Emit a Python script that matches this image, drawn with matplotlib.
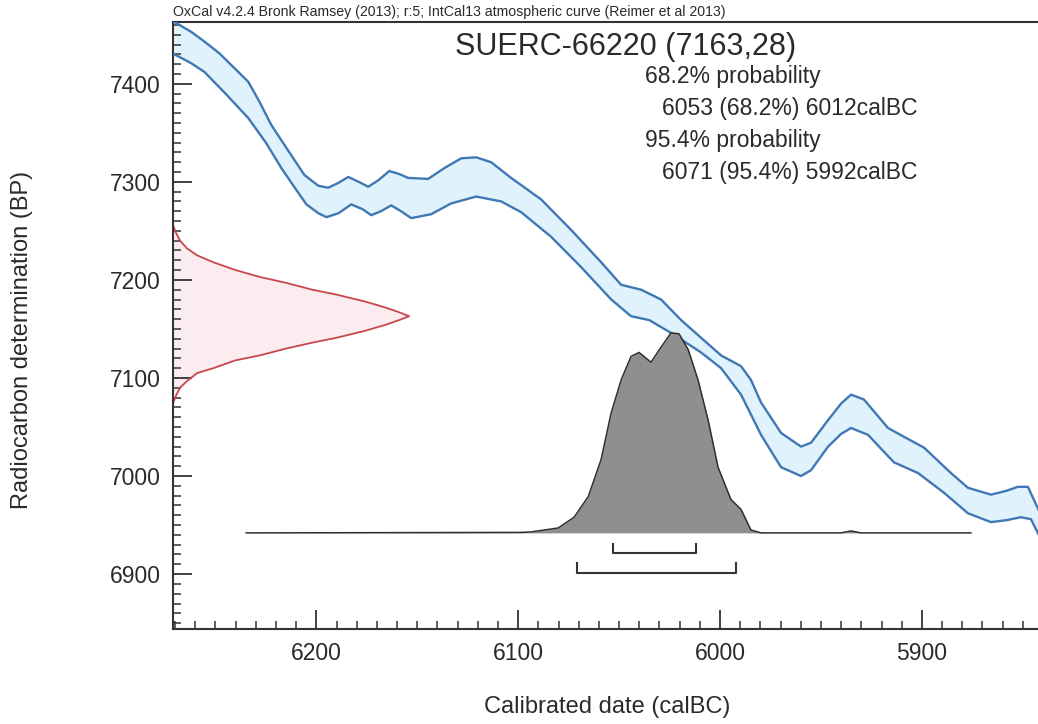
import matplotlib
matplotlib.use("Agg")
import matplotlib.pyplot as plt
from matplotlib.ticker import MultipleLocator

plt.rcParams['font.family'] = ['Liberation Sans', 'DejaVu Sans']

# IntCal13 band, upper and lower edges (calBC, BP)
upper_cal = [6270.3, 6262.0, 6255.4, 6248.0, 6240.6, 6233.7, 6228.0, 6222.3, 6214.0, 6205.9,
             6199.0, 6194.1, 6189.0, 6184.2, 6179.0, 6174.3, 6169.0, 6163.9, 6159.0, 6154.5,
             6144.6, 6136.6, 6128.2, 6120.8, 6113.4, 6103.5, 6088.6, 6073.8, 6058.9,
             6049.0, 6039.1, 6029.2, 6019.3, 6009.4, 5999.5, 5989.6, 5984.7, 5979.7, 5969.8,
             5959.9, 5954.9, 5946.5, 5940.0, 5935.1, 5928.7, 5916.8, 5908.9, 5899.0, 5885.6,
             5877.2, 5865.8, 5858.0, 5852.5, 5847.5, 5842.1]
upper_bp = [7463, 7453, 7443, 7431, 7416, 7402, 7381, 7358, 7332, 7307,
            7296, 7294, 7299, 7305, 7300, 7295, 7302, 7311, 7308, 7304,
            7303, 7314, 7324, 7325, 7320, 7304, 7282, 7251, 7218,
            7195, 7190, 7180, 7159, 7141, 7123, 7112, 7098, 7075, 7044,
            7030, 7034, 7057, 7074, 7083, 7078, 7049, 7040, 7029, 7003,
            6988, 6981, 6985, 6989, 6989, 6965]
lower_cal = [6270.3, 6262.0, 6255.4, 6245.0, 6233.7, 6225.0, 6217.3, 6210.0, 6204.9, 6199.0,
             6195.0, 6189.0, 6182.7, 6177.0, 6172.8, 6168.0, 6162.9, 6158.0, 6153.0,
             6143.1, 6133.2, 6120.8, 6108.4, 6098.5, 6083.7, 6068.8, 6053.9, 6044.1, 6035.1,
             6024.3, 6009.4, 5999.5, 5989.6, 5979.7, 5969.8, 5959.9, 5954.9, 5946.5, 5940.0,
             5935.1, 5926.7, 5913.9, 5901.9, 5889.1, 5877.2, 5865.8, 5858.0, 5851.0, 5846.0,
             5842.1]
lower_bp = [7430, 7421, 7412, 7390, 7365, 7340, 7314, 7292, 7277, 7268,
            7264, 7268, 7277, 7272, 7266, 7270, 7276, 7270, 7263,
            7267, 7278, 7285, 7280, 7269, 7244, 7213, 7180, 7163, 7159,
            7146, 7126, 7110, 7083, 7042, 7009, 7000, 7006, 7030, 7043,
            7049, 7042, 7014, 7003, 6983, 6962, 6953, 6955, 6958, 6956,
            6940]

# calibrated probability distribution (calBC, height above baseline in BP units)
dist_cal = [6234.7, 6098.5, 6093.6, 6080.2, 6072.3, 6065.3, 6058.9, 6054.0, 6049.0, 6044.1,
            6040.1, 6034.2, 6030.7, 6024.3, 6020.3, 6015.8, 6010.9, 6005.9, 6001.0, 5994.6,
            5989.6, 5984.7, 5979.7, 5940.1, 5935.1, 5930.2, 5875.7]
dist_h = [0, 0.5, 1, 5, 16, 37, 75, 122, 156, 180,
          184, 174, 185, 204, 203, 187, 156, 115, 67, 34,
          24, 3, 0, 0, 2, 0, 0]
dist_base = 6942

# radiocarbon measurement curve (BP, extent in calendar years)
meas_bp = [7256, 7248, 7240, 7232, 7225, 7218, 7210, 7203, 7197, 7190, 7185, 7178, 7172, 7167,
           7163, 7159, 7154, 7148, 7141, 7136, 7130, 7123, 7118, 7110, 7105, 7097, 7090, 7082,
           7074]
meas_w = [0, 1.5, 3.5, 7, 12, 20, 31, 43, 56, 69, 81, 95, 105, 112,
          117, 112, 105, 95, 81, 69, 56, 43, 31, 20, 12, 7, 3.5, 1.5, 0]

# probability ranges (from, to, bracket level BP)
ranges = [(6053, 6012, 6921), (6071, 5992, 6901)]

xmin, xmax = 6271, 5842
ymin, ymax = 6844, 7463

fig = plt.figure(figsize=(10.38, 7.24), dpi=100)
ax = fig.add_axes([173 / 1038, 95 / 724, 866 / 1038, 607 / 724])

# calibration band
ax.fill(upper_cal + lower_cal[::-1], upper_bp + lower_bp[::-1], color='#e0f2fc', lw=0, zorder=1)
for cx, cy in [(upper_cal, upper_bp), (lower_cal, lower_bp)]:
    ax.plot(cx, cy, color='#3f78b4', lw=1.7, zorder=3, solid_joinstyle='round')

# measurement curve on y axis
mx = [xmin - w for w in meas_w]
ax.fill_betweenx(meas_bp, xmin, mx, color='#fbedef', lw=0, zorder=1)
ax.plot(mx, meas_bp, color='#c9474d', lw=1.3, zorder=2, solid_joinstyle='round')

# calibrated distribution
dy = [dist_base + h for h in dist_h]
ax.fill_between(dist_cal, dist_base, dy, color='#8f8f8f', lw=0, zorder=4)
ax.plot(dist_cal, dy, color='#2e2e2e', lw=1.1, zorder=5, solid_joinstyle='round')

# range brackets
for a, b, lev in ranges:
    ax.plot([a, a, b, b], [lev + 10, lev, lev, lev + 10], color='#333333', lw=1.5, zorder=5)

ax.set_xlim(xmin, xmax)
ax.set_ylim(ymin, ymax)
ax.xaxis.set_major_locator(MultipleLocator(100))
ax.xaxis.set_minor_locator(MultipleLocator(10))
ax.yaxis.set_major_locator(MultipleLocator(100))
ax.yaxis.set_minor_locator(MultipleLocator(10))
ax.tick_params(which='both', direction='in', top=False, right=False, colors='#333333')
ax.tick_params(which='major', length=14, width=1.3, labelsize=16.5, pad=9, labelcolor='#2a2a2a')
ax.tick_params(which='minor', length=6, width=1.1)
ax.spines['right'].set_visible(False)
for s in ['left', 'bottom', 'top']:
    ax.spines[s].set_linewidth(1.5)
    ax.spines[s].set_color('#333333')

fig.text(22 / 1038, 1 - 340 / 724, 'Radiocarbon determination (BP)', rotation=90,
         ha='center', va='center', fontsize=17, color='#2a2a2a')
fig.text(607 / 1038, 1 - 707 / 724, 'Calibrated date (calBC)',
         ha='center', va='center', fontsize=17, color='#2a2a2a')
fig.text(173 / 1038, 1 - 12 / 724,
         'OxCal v4.2.4 Bronk Ramsey (2013); r:5; IntCal13 atmospheric curve (Reimer et al 2013)',
         ha='left', va='center', fontsize=10.2, color='#2a2a2a')

fig.text(626 / 1038, 1 - 47 / 724, 'SUERC-66220 (7163,28)', ha='center', va='center',
         fontsize=22, color='#2a2a2a')
lines = [('68.2% probability', 645, 76), ('6053 (68.2%) 6012calBC', 662, 108),
         ('95.4% probability', 645, 140), ('6071 (95.4%) 5992calBC', 662, 172)]
for txt, px, py in lines:
    fig.text(px / 1038, 1 - py / 724, txt, ha='left', va='center', fontsize=16.5, color='#2a2a2a')

fig.savefig('out.png', dpi=100)
